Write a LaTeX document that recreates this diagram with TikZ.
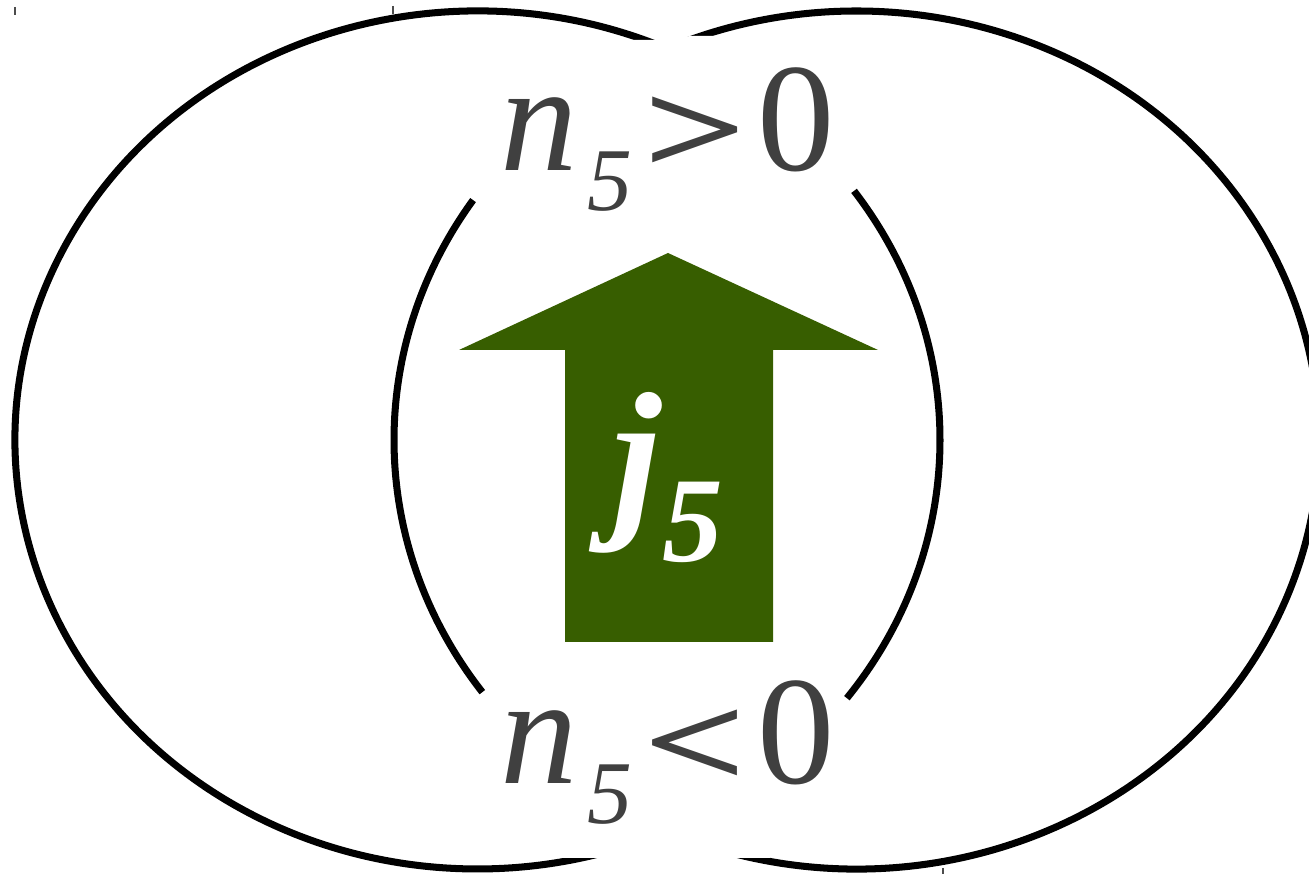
\documentclass[tikz,border=0pt]{standalone}
\usepackage{fontspec}
\setmainfont{LiberationSerif}[Extension=.ttf, UprightFont=*-Regular, ItalicFont=*-Italic, BoldFont=*-Bold, BoldItalicFont=*-BoldItalic]
\definecolor{arrowgreen}{HTML}{375E00}
\definecolor{labelgray}{HTML}{404040}
\tikzset{
  ring/.style={line width=4pt, black},
  tick/.style={line width=0.6pt, black!70},
  gapbox/.style={fill=white, draw=none},
  label/.style={anchor=base west, inner sep=0pt, text=labelgray, font=\fontsize{88}{100}\selectfont},
  current/.style={anchor=base west, inner sep=0pt, text=white, font=\fontsize{101}{110}\selectfont},
}
\newcommand{\relsym}[1]{\raisebox{-0.06cm}{\scalebox{1.18}[0.85]{\bfseries #1}}}
\begin{document}
\begin{tikzpicture}[x=0.02cm,y=0.02cm]
\useasboundingbox (0,0) rectangle (1309,874);
\coordinate (L) at (477.5,434);
\coordinate (R) at (856.5,434);
% left ring
\draw[ring] (L) ++(64:462.5 and 429) arc[start angle=64, end angle=287, x radius=462.5, y radius=429];
\draw[ring] (L) ++(-37:462.5 and 429) arc[start angle=-37, end angle=35.5, x radius=462.5, y radius=429];
% right ring
\draw[ring] (R) ++(-107:462.5 and 429) arc[start angle=-107, end angle=113, x radius=462.5, y radius=429];
\draw[ring] (R) ++(146:462.5 and 429) arc[start angle=146, end angle=216, x radius=462.5, y radius=429];
% gaps
\fill[gapbox] (628,834) -- (668,834) -- (690,838) -- (725,838) -- (725,780) -- (628,780) -- cycle;
\fill[gapbox] (560,16) rectangle (770,60);
% arrow
\fill[arrowgreen] (565,232) -- (565,524) -- (459,524) -- (668,621) -- (878,524) -- (773,524) -- (773,232) -- cycle;
% labels
\node[label] (top) at (500,703) {\itshape n\hspace{0.2cm}\raisebox{-0.8cm}{\fontsize{51}{60}\selectfont\itshape 5}\hspace{0.22cm}\upshape\relsym{>}\hspace{0.2cm}0};
\node[label] (bottom) at (500,90) {\itshape n\hspace{0.2cm}\raisebox{-0.8cm}{\fontsize{51}{60}\selectfont\itshape 5}\hspace{0.22cm}\upshape\relsym{<}\hspace{0.2cm}0};
\node[current] (j) at (612,358) {\bfseries\itshape j\hspace{0.02cm}\raisebox{-0.92cm}{\fontsize{69}{80}\selectfont\bfseries\itshape 5}};
% small marks
\draw[tick] (15,867) -- (15,859);
\draw[tick] (393,868) -- (393,860);
\draw[tick] (943,6) -- (943,0);
\end{tikzpicture}
\end{document}
